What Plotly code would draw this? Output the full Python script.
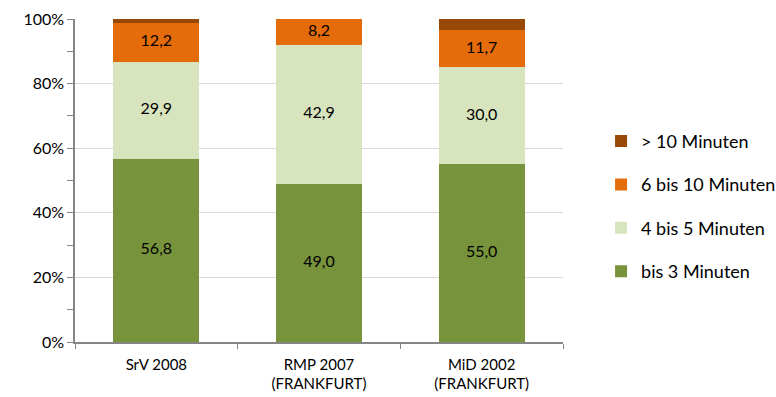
import plotly.graph_objects as go

categories = ["SrV 2008", "RMP 2007<br>(FRANKFURT)", "MiD 2002<br>(FRANKFURT)"]
bis3 = [56.8, 49.0, 55.0]
bis5 = [29.9, 42.9, 30.0]
bis10 = [12.2, 8.2, 11.7]
ueber10 = [1.1, 0.0, 3.3]

# (name, values, colour, show value labels, legend rank)
series = [
    ("bis 3 Minuten", bis3, "#77933C", True, 4),
    ("4 bis 5 Minuten", bis5, "#D7E4BD", True, 3),
    ("6 bis 10 Minuten", bis10, "#E46C0A", True, 2),
    ("> 10 Minuten", ueber10, "#984807", False, 1),
]

fig = go.Figure()
base = [0.0] * len(categories)
for i, (name, vals, color, labelled, rank) in enumerate(series):
    fig.add_trace(go.Bar(
        x=categories, y=vals, name=name,
        marker=dict(color=color, line=dict(width=0)),
        legendgroup=f"g{i}",
        legendrank=rank,
    ))
    if labelled:
        # value labels centred in each segment
        fig.add_trace(go.Scatter(
            x=categories,
            y=[b + v / 2 for b, v in zip(base, vals)],
            mode="text",
            text=[f"{v:.1f}".replace(".", ",") for v in vals],
            textposition="middle center",
            textfont=dict(family="Lato, sans-serif", size=16, color="#000000"),
            showlegend=False, hoverinfo="skip",
        ))
    base = [b + v for b, v in zip(base, vals)]

fig.update_layout(
    barmode="stack",
    bargap=0.47,
    width=776, height=397,
    margin=dict(l=75, r=213, t=19, b=55, autoexpand=False),
    paper_bgcolor="white", plot_bgcolor="white",
    font=dict(family="Lato, sans-serif", size=15, color="#000000"),
    legend=dict(
        traceorder="grouped",
        tracegroupgap=17,
        x=1.078, y=0.42, xanchor="left", yanchor="middle",
        font=dict(size=18),
        itemwidth=30,
    ),
    showlegend=True,
)
fig.update_xaxes(
    showline=True, linecolor="#868686", linewidth=1.5,
    ticks="outside", tickson="boundaries", ticklen=5, tickcolor="#868686",
    ticklabelstandoff=8,
    tickfont=dict(size=15),
    automargin=False,
)
fig.update_yaxes(
    range=[0, 100], dtick=20, ticksuffix="%",
    showline=True, linecolor="#868686", linewidth=1.5,
    showgrid=True, gridcolor="#D9D9D9", gridwidth=1,
    ticks="outside", ticklen=6, tickcolor="#868686",
    minor=dict(dtick=10, ticks="outside", ticklen=6, tickcolor="#868686", showgrid=False),
    tickfont=dict(size=16),
    zeroline=False,
    automargin=False,
)

fig.write_html("out.html")
